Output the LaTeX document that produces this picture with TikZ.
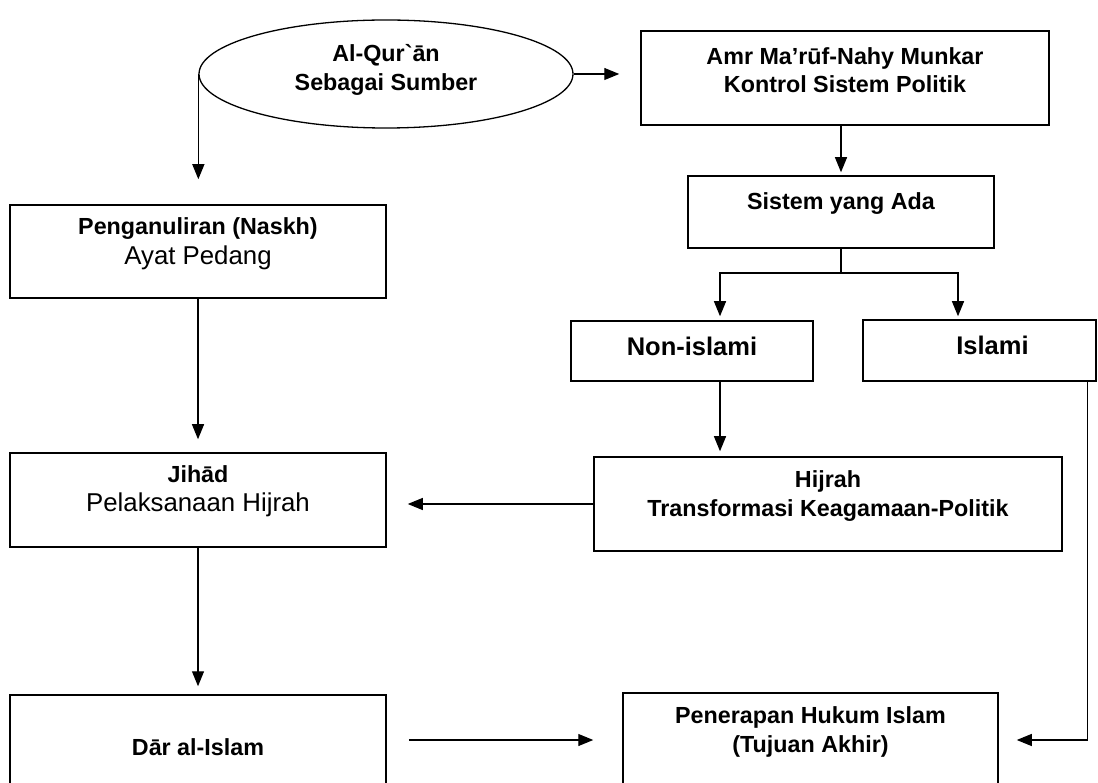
\documentclass[tikz,border=0pt]{standalone}
\usepackage{fontspec}
\setmainfont{Liberation Sans}[Ligatures=TeXOff]
\usetikzlibrary{arrows.meta,shapes.geometric}
\newcommand{\fb}{\fontsize{23.3pt}{28.5pt}\selectfont\bfseries}
\newcommand{\fr}{\fontsize{25.8pt}{29.5pt}\selectfont\mdseries}
\newcommand{\fbb}{\fontsize{25.5pt}{30pt}\selectfont\bfseries}
\newcommand{\bt}[4]{\parbox[c][#2][c]{#1}{\centering #4\par\vspace*{#3}}}
\begin{document}
\begin{tikzpicture}[x=1pt,y=-1pt,
  box/.style={draw, line width=1.5pt, inner sep=0pt, rectangle},
  arr/.style={line width=1.2pt, -{Triangle[length=15pt,width=12pt]}},
  ln/.style={line width=1.2pt}]
\useasboundingbox (0,0) rectangle (1098,783);
\fill[white] (0,0) rectangle (1098,783);
% nodes
\node[draw, ellipse, line width=1.3pt, inner sep=0pt, minimum width=374pt, minimum height=108pt] (ell) at (386,74)
  {\bt{200pt}{60pt}{8pt}{\fb Al-Qur`ān\\Sebagai Sumber}};
\node[box] (amr) at (845,78) {\bt{408pt}{94pt}{16pt}{\fb Amr Ma’rūf-Nahy Munkar\\Kontrol Sistem Politik}};
\node[box] (pen) at (198,251.5) {\bt{376pt}{93pt}{16pt}{{\fb Penganuliran (Naskh)\par}{\fr Ayat Pedang\par}}};
\node[box] (sis) at (841,212) {\bt{306pt}{72pt}{16pt}{\fb Sistem yang Ada}};
\node[box] (non) at (692,351) {\bt{242pt}{60pt}{10pt}{\fbb Non-islami}};
\node[box] (isl) at (979.5,350.5) {\bt{233pt}{61pt}{10pt}{\fbb\hspace*{26pt}Islami}};
\node[box] (hij) at (828,504) {\bt{468pt}{94pt}{16pt}{\fb Hijrah\\Transformasi Keagamaan-Politik}};
\node[box] (jih) at (198,500) {\bt{376pt}{94pt}{18pt}{{\fb Jihād\par}{\fr Pelaksanaan Hijrah\par}}};
\node[box] (dar) at (198,747.5) {\bt{376pt}{105pt}{0pt}{\fb Dār al-Islam}};
\node[box] (ter) at (810.5,740) {\bt{375pt}{94pt}{16pt}{\fb Penerapan Hukum Islam\\(Tujuan Akhir)}};
% helper coordinates
\coordinate (bl) at (720,273);
\coordinate (brr) at (958,273);
\coordinate (bm) at (sis.south |- bl);
\coordinate (ic) at ([xshift=-9pt]isl.south east);
% connectors
\draw[arr, shorten >=25pt] (ell.west) -- (ell.west |- pen.north);
\draw[arr, shorten >=21pt] (ell.east) -- (ell.east -| amr.west);
\draw[arr, shorten >=3pt] (sis.north |- amr.south) -- (sis.north);
\draw[ln] (sis.south) -- (bm);
\draw[arr, shorten >=4pt] (bm) -| (bl |- non.north);
\draw[arr, shorten >=3pt] (bm) -| (brr |- isl.north);
\draw[arr, shorten >=5pt] (bl |- non.south) -- (bl |- hij.north);
\draw[arr, shorten >=21pt] (hij.west) -- (hij.west -| jih.east);
\draw[arr, shorten >=13pt] (pen.south) -- (jih.north);
\draw[arr, shorten >=8pt] (jih.south) -- (dar.north);
\draw[arr, shorten <=22pt, shorten >=29pt] (ter.west -| dar.east) -- (ter.west);
\draw[arr, shorten >=18pt] (ic) |- (ter.east);
\end{tikzpicture}
\end{document}
